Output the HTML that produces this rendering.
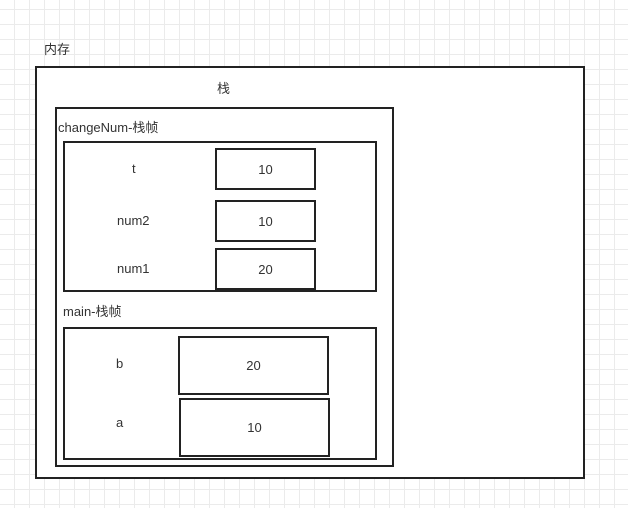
<!DOCTYPE html>
<html><head><meta charset="utf-8"><style>
body{margin:0;width:628px;height:508px;overflow:hidden;background:#fff;
background-image:linear-gradient(#ebebeb 1px,transparent 1px),linear-gradient(90deg,#ebebeb 1px,transparent 1px);
background-size:15px 15px;background-position:14px 9px;
font-family:"Liberation Sans","Noto Sans CJK SC",sans-serif;font-size:13px;color:#333;position:relative}
.b{position:absolute;border:2px solid #222;background:#fff;box-sizing:border-box}
.t{position:absolute;white-space:nowrap}
.c{display:flex;align-items:center;justify-content:center}
</style></head><body>
<div class="t" style="left:44px;top:39px">内存</div>
<div class="b" style="left:35px;top:66px;width:550px;height:413px"></div>
<div class="t" style="left:217px;top:78px">栈</div>
<div class="b" style="left:55px;top:107px;width:339px;height:360px"></div>
<div class="t" style="left:58px;top:117px">changeNum-栈帧</div>
<div class="b" style="left:63px;top:141px;width:314px;height:151px"></div>
<div class="t" style="left:132px;top:161px">t</div>
<div class="t" style="left:117px;top:213px">num2</div>
<div class="t" style="left:117px;top:261px">num1</div>
<div class="b c" style="left:215px;top:148px;width:101px;height:42px">10</div>
<div class="b c" style="left:215px;top:200px;width:101px;height:42px">10</div>
<div class="b c" style="left:215px;top:248px;width:101px;height:42px">20</div>
<div class="t" style="left:63px;top:301px">main-栈帧</div>
<div class="b" style="left:63px;top:327px;width:314px;height:133px"></div>
<div class="t" style="left:116px;top:356px">b</div>
<div class="t" style="left:116px;top:415px">a</div>
<div class="b c" style="left:178px;top:336px;width:151px;height:59px">20</div>
<div class="b c" style="left:179px;top:398px;width:151px;height:59px">10</div>
</body></html>
